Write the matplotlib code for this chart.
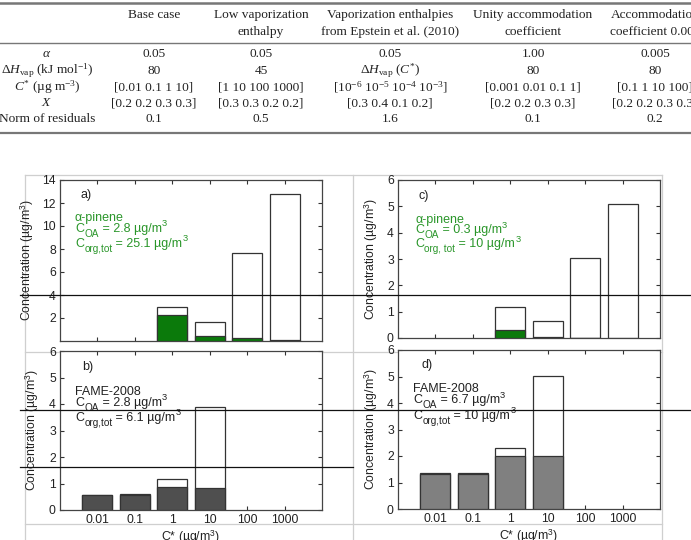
import matplotlib
matplotlib.use("Agg")
import matplotlib.pyplot as plt
from matplotlib.lines import Line2D
import numpy as np

plt.rcParams['mathtext.fontset'] = 'custom'
plt.rcParams['mathtext.rm'] = 'Liberation Serif'
plt.rcParams['mathtext.it'] = 'Liberation Serif:italic'
plt.rcParams['mathtext.sf'] = 'Liberation Sans'
plt.rcParams['font.family'] = ['Liberation Sans', 'DejaVu Sans']

W, H = 691, 540
fig = plt.figure(figsize=(W / 100, H / 100), dpi=100)

def fx(x):
    return x / W

def fy(y):
    return 1 - y / H

# ---------------- table data ----------------
table_headers = [["Base case"],
                 ["Low vaporization", "enthalpy"],
                 ["Vaporization enthalpies", "from Epstein et al. (2010)"],
                 ["Unity accommodation", "coefficient"],
                 ["Accommodation", "coefficient 0.005"]]
row_labels = [r"$\alpha$", r"$\Delta H_{\rm vap}$ (kJ mol$^{-1}$)",
              r"$C^{*}$ (µg m$^{-3}$)", r"$X$", "Norm of residuals"]
row_alpha = ["0.05", "0.05", "0.05", "1.00", "0.005"]
row_dh = ["80", "45", r"$\Delta H_{\rm vap}$ ($C^{*}$)", "80", "80"]
row_cstar = ["[0.01 0.1 1 10]", "[1 10 100 1000]",
             r"[10$^{-6}$ 10$^{-5}$ 10$^{-4}$ 10$^{-3}$]",
             "[0.001 0.01 0.1 1]", "[0.1 1 10 100]"]
row_x = ["[0.2 0.2 0.3 0.3]", "[0.3 0.3 0.2 0.2]", "[0.3 0.4 0.1 0.2]",
         "[0.2 0.2 0.3 0.3]", "[0.2 0.2 0.3 0.3]"]
row_norm = ["0.1", "0.5", "1.6", "0.1", "0.2"]
table_rows = [row_alpha, row_dh, row_cstar, row_x, row_norm]

col_x = [154, 261, 390, 533, 655]
label_x = 47
row_y = [54, 71, 87, 103, 119]
tfont = dict(family=['Liberation Serif', 'DejaVu Serif'], size=9.6, color='#222222')

for cx, hdr in zip(col_x, table_headers):
    for k, line in enumerate(hdr):
        fig.text(fx(cx), fy(15 + 17 * k), line, ha='center', va='center', **tfont)
for ry, lab in zip(row_y, row_labels):
    fig.text(fx(label_x), fy(ry), lab, ha='center', va='center', **tfont)
for ry, row in zip(row_y, table_rows):
    for cx, val in zip(col_x, row):
        fig.text(fx(cx), fy(ry), val, ha='center', va='center', **tfont)

for yy, lw in [(3, 1.8), (43, 1.0), (133, 1.6)]:
    fig.add_artist(Line2D([0, 1], [fy(yy), fy(yy)], color='#777777', lw=lw))

# ---------------- frame lines (behind panels) ----------------
frame_col = '#cfcfcf'
frame = [([25, 662], [175, 175]), ([25, 25], [175, 540]), ([353, 353], [175, 540]),
         ([662, 662], [175, 540]), ([25, 662], [352, 352]), ([25, 662], [524, 524])]
for xs, ys in frame:
    fig.add_artist(Line2D([fx(v) for v in xs], [fy(v) for v in ys],
                          color=frame_col, lw=0.9, zorder=-5))

# ---------------- panel data ----------------
cstar_labels = ['0.01', '0.1', '1', '10', '100', '1000']
a_total = [0, 0, 3.00, 1.65, 7.66, 12.77]
a_particle = [0, 0, 2.23, 0.40, 0.23, 0.05]
c_total = [0, 0, 1.19, 0.64, 3.03, 5.10]
c_particle = [0, 0, 0.29, 0.02, 0.01, 0.0]
b_total = [0.57, 0.60, 1.16, 3.87, 0, 0]
b_particle = [0.57, 0.57, 0.86, 0.84, 0, 0]
d_total = [1.34, 1.37, 2.31, 5.03, 0, 0]
d_particle = [1.33, 1.33, 2.01, 2.01, 0, 0]

green_bar = '#0b7a0b'
green_txt = '#2a962a'
edge = '#333333'


def rich(ax, x, y, parts, color, size=9.0):
    """parts: list of (text, kind) with kind in 'n', 'sub', 'sup'."""
    base = ax.text(x, y, parts[0][0], transform=ax.transAxes, fontsize=size,
                   ha='left', va='baseline', color=color)
    prev = base
    for txt, kind in parts[1:]:
        if kind == 'n':
            t = ax.annotate(txt, xy=(1, 0), xycoords=(prev, base), xytext=(0, 0),
                            textcoords='offset points', fontsize=size,
                            ha='left', va='bottom', color=color)
        elif kind == 'sub':
            t = ax.annotate(txt, xy=(1, 0), xycoords=(prev, base), xytext=(0.2, -2.6),
                            textcoords='offset points', fontsize=size * 0.8,
                            ha='left', va='bottom', color=color)
        else:
            t = ax.annotate(txt, xy=(1, 1), xycoords=(prev, base), xytext=(0.2, 2.6),
                            textcoords='offset points', fontsize=size * 0.75,
                            ha='left', va='top', color=color)
        prev = t


def lines_for(coa, corg, sub2):
    return [[('C', 'n'), ('OA', 'sub'), (' = %s µg/m' % coa, 'n'), ('3', 'sup')],
            [('C', 'n'), (sub2, 'sub'), (' = %s µg/m' % corg, 'n'), ('3', 'sup')]]


panels = [
    dict(box=(60, 180, 322, 341), total=a_total, part=a_particle, fill=green_bar,
         ymax=14, yticks=[2, 4, 6, 8, 10, 12, 14], tag='a)', tagpos=(0.08, 0.907),
         tcol=green_txt, head='α-pinene', rich=lines_for('2.8', '25.1', 'org,tot'),
         tx=0.057, ys=[0.747, 0.677, 0.584], ylab_x=-0.092, xlabels=False),
    dict(box=(398, 180, 660, 338), total=c_total, part=c_particle, fill=green_bar,
         ymax=6, yticks=[0, 1, 2, 3, 4, 5, 6], tag='c)', tagpos=(0.08, 0.899),
         tcol=green_txt, head='α-pinene', rich=lines_for('0.3', '10', 'org, tot'),
         tx=0.065, ys=[0.726, 0.663, 0.574], ylab_x=-0.069, xlabels=False),
    dict(box=(60, 351, 322, 510), total=b_total, part=b_particle, fill='#4f4f4f',
         ymax=6, yticks=[0, 1, 2, 3, 4, 5, 6], tag='b)', tagpos=(0.083, 0.898),
         tcol='#222222', head='FAME-2008', rich=lines_for('2.8', '6.1', 'org,tot'),
         tx=0.057, ys=[0.723, 0.654, 0.560], ylab_x=-0.073, xlabels=True),
    dict(box=(398, 350, 660, 509), total=d_total, part=d_particle, fill='#808080',
         ymax=6, yticks=[0, 1, 2, 3, 4, 5, 6], tag='d)', tagpos=(0.09, 0.906),
         tcol='#222222', head='FAME-2008', rich=lines_for('6.7', '10', 'org,tot'),
         tx=0.057, ys=[0.738, 0.665, 0.566], ylab_x=-0.069, xlabels=True),
]

pos = np.arange(len(cstar_labels))
for p in panels:
    x0, y0, x1, y1 = p['box']
    ax = fig.add_axes([fx(x0), fy(y1), (x1 - x0) / W, (y1 - y0) / H])
    tot = np.array(p['total'])
    par = np.array(p['part'])
    m = tot > 0
    ax.bar(pos[m], tot[m], width=0.8, color='white', edgecolor=edge, linewidth=0.9, zorder=2)
    mp = par > 0
    ax.bar(pos[mp], par[mp], width=0.8, color=p['fill'], edgecolor=edge, linewidth=0.9, zorder=3)
    ax.set_xlim(-1, 6)
    ax.set_ylim(0, p['ymax'])
    ax.set_yticks(p['yticks'])
    ax.set_xticks(pos)
    if p['xlabels']:
        ax.set_xticklabels(cstar_labels)
        ax.set_xlabel('C* (µg/m$^{\\mathsf{3}}$)', fontsize=8.8, color='#222222')
        ax.xaxis.set_label_coords(0.5, -0.115)
    else:
        ax.set_xticklabels([])
    ax.tick_params(direction='in', top=True, right=True, length=3, width=0.8,
                   labelsize=8.7, colors='#333333', labelcolor='#222222', pad=3)
    for s in ax.spines.values():
        s.set_color('#444444')
        s.set_linewidth(0.9)
    ax.set_ylabel('Concentration (µg/m$^{\\mathsf{3}}$)', fontsize=8.8, color='#222222')
    ax.yaxis.set_label_coords(p['ylab_x'], 0.5)
    ax.text(p['tagpos'][0], p['tagpos'][1], p['tag'], transform=ax.transAxes, fontsize=9,
            ha='left', va='center', color='#222222')
    ax.text(p['tx'], p['ys'][0], p['head'], transform=ax.transAxes, fontsize=9,
            ha='left', va='baseline', color=p['tcol'])
    for parts, yy in zip(p['rich'], p['ys'][1:]):
        rich(ax, p['tx'], yy, parts, p['tcol'])

# ---------------- stray horizontal lines in reference ----------------
for xs, yy in [((20, 691), 294.5), ((20, 691), 410), ((20, 353), 467)]:
    fig.add_artist(Line2D([fx(xs[0]), fx(xs[1])], [fy(yy), fy(yy)],
                          color='#111111', lw=0.9, zorder=20))

fig.savefig('out.png', dpi=100)
